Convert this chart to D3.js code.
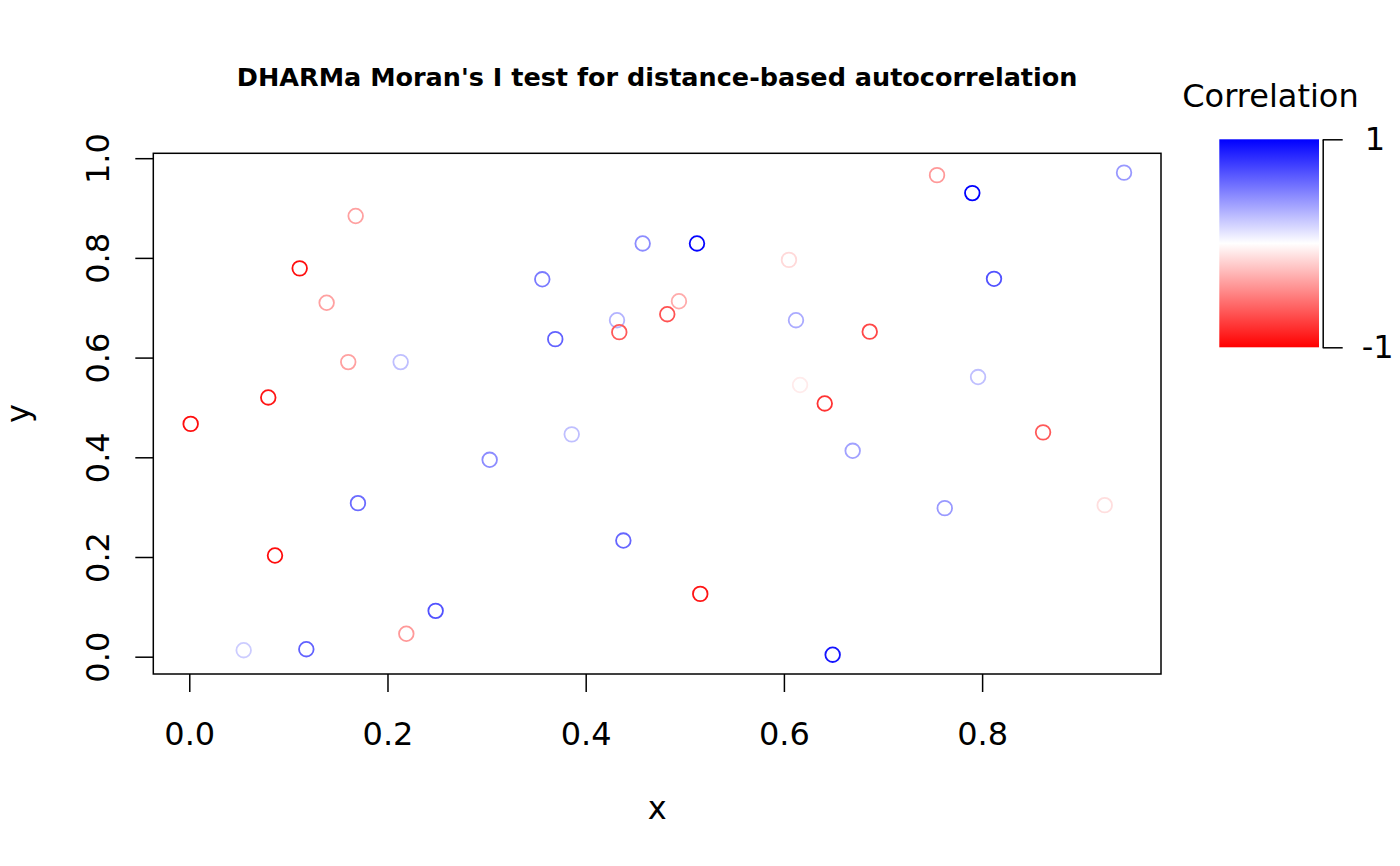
<!DOCTYPE html>
<html>
<head>
<meta charset="utf-8">
<script src="https://cdn.jsdelivr.net/npm/d3@7"></script>
<style>
    body { margin: 0; background: #fff; }
    text { font-family: "DejaVu Sans", sans-serif; }
</style>
</head>
<body>
<script>

// données (coordonnées et corrélation de chaque point)
const xs = [0.0014, 0.0797, 0.0865, 0.1114, 0.0549, 0.1181, 0.1386, 0.1679, 0.1604, 0.1702,
    0.2133, 0.2190, 0.2486, 0.3031, 0.3562, 0.3693, 0.3859, 0.4316, 0.4339, 0.4380,
    0.4575, 0.4823, 0.4941, 0.5123, 0.5156, 0.6051, 0.6122, 0.6163, 0.6412, 0.6492,
    0.6694, 0.6866, 0.7545, 0.7623, 0.7901, 0.7959, 0.8120, 0.8615, 0.9237, 0.9432]

const ys = [0.467, 0.520, 0.203, 0.779, 0.013, 0.015, 0.710, 0.884, 0.591, 0.308,
    0.591, 0.046, 0.092, 0.395, 0.757, 0.637, 0.446, 0.675, 0.651, 0.233,
    0.829, 0.687, 0.713, 0.829, 0.126, 0.796, 0.675, 0.545, 0.508, 0.004,
    0.413, 0.652, 0.966, 0.298, 0.930, 0.561, 0.758, 0.450, 0.304, 0.971]

const correlations = [-0.95, -0.92, -0.95, -0.95, 0.2, 0.62, -0.37, -0.37, -0.37, 0.58,
    0.25, -0.4, 0.68, 0.45, 0.52, 0.62, 0.25, 0.3, -0.65, 0.6,
    0.45, -0.68, -0.33, 0.98, -0.92, -0.15, 0.33, -0.08, -0.8, 0.92,
    0.37, -0.72, -0.4, 0.4, 1.0, 0.25, 0.68, -0.65, -0.13, 0.4]

const xTicks = [0, 0.2, 0.4, 0.6, 0.8]
const yTicks = [0, 0.2, 0.4, 0.6, 0.8, 1.0]
const legendTicks = [-1, 1]

const titre = "DHARMa Moran's I test for distance-based autocorrelation"


// zone du graphique
let margin = { top: 153.3, right: 239, bottom: 192, left: 153.3 };
let width = 1400 - margin.left - margin.right,
    height = 866 - margin.top - margin.bottom;

let svg = d3.select("body")
    .append("svg")
    .attr("width", 1400)
    .attr("height", 866)

let g = svg.append("g")
    .attr("transform", "translate(" + margin.left + "," + margin.top + ")");

// scales
let x = d3.scaleLinear()
    .domain([-0.0363, 0.9805])
    .range([0, width])

let y = d3.scaleLinear()
    .domain([-0.0347, 1.0098])
    .range([height, 0])

let color = d3.scaleLinear()
    .domain([-1, 0, 1])
    .range(["red", "white", "blue"])

// axes
let xAxis = g.append("g")
    .attr("transform", "translate(0," + height + ")")
    .call(d3.axisBottom(x).tickValues(xTicks).tickSize(18).tickFormat(d3.format(".1f")))

let yAxis = g.append("g")
    .call(d3.axisLeft(y).tickValues(yTicks).tickSize(18).tickFormat(d3.format(".1f")))

xAxis.select(".domain").remove()
yAxis.select(".domain").remove()

xAxis.selectAll(".tick line").attr("stroke", "black").attr("stroke-width", 1.5)
yAxis.selectAll(".tick line").attr("stroke", "black").attr("stroke-width", 1.5)

xAxis.selectAll(".tick text")
    .attr("y", 60)
    .attr("dy", "0.35em")
    .style("font-size", "32px")
    .attr("fill", "black")

yAxis.selectAll(".tick text")
    .attr("transform", "rotate(-90)")
    .attr("x", 0)
    .attr("y", -56)
    .attr("dy", "0.35em")
    .attr("text-anchor", "middle")
    .style("font-size", "32px")
    .attr("fill", "black")

// cadre
g.append("rect")
    .attr("width", width)
    .attr("height", height)
    .attr("fill", "none")
    .attr("stroke", "black")
    .attr("stroke-width", 1.5)

// points
g.selectAll(".point")
    .data(xs)
    .enter()
    .append("circle")
    .attr("class", "point")
    .attr("cx", (d, i) => x(xs[i]))
    .attr("cy", (d, i) => y(ys[i]))
    .attr("r", 7.3)
    .attr("fill", "none")
    .attr("stroke", (d, i) => color(correlations[i]))
    .attr("stroke-width", 1.8)

// titres
svg.append("text")
    .text(titre)
    .attr("x", margin.left + width / 2)
    .attr("y", 86)
    .attr("text-anchor", "middle")
    .style("font-size", "25.5px")
    .style("font-weight", "bold")

svg.append("text")
    .text("x")
    .attr("x", margin.left + width / 2)
    .attr("y", 819)
    .attr("text-anchor", "middle")
    .style("font-size", "32px")

svg.append("text")
    .text("y")
    .attr("transform", "translate(29," + (margin.top + height / 2) + ") rotate(-90)")
    .attr("text-anchor", "middle")
    .style("font-size", "32px")

// légende (barre de couleurs)
let legTop = 139.3, legBottom = 347.3, legLeft = 1219.3, legWidth = 99.7

let grad = svg.append("defs")
    .append("linearGradient")
    .attr("id", "degrade")
    .attr("x1", 0).attr("y1", 1)
    .attr("x2", 0).attr("y2", 0)

d3.range(0, 1.0001, 0.1).forEach(t => {
    grad.append("stop")
        .attr("offset", t)
        .attr("stop-color", color(-1 + 2 * t))
})

svg.append("rect")
    .attr("x", legLeft)
    .attr("y", legTop)
    .attr("width", legWidth)
    .attr("height", legBottom - legTop)
    .attr("fill", "url(#degrade)")

let legScale = d3.scaleLinear()
    .domain([-1, 1])
    .range([legBottom, legTop])

let legAxis = svg.append("g")
    .attr("transform", "translate(1322.7,0)")
    .call(d3.axisRight(legScale).tickValues(legendTicks).tickSize(20).tickSizeOuter(0)
        .tickFormat(d => String(d)))

legAxis.select(".domain").attr("stroke", "black").attr("stroke-width", 1.5)
legAxis.selectAll(".tick line").attr("stroke", "black").attr("stroke-width", 1.5)
legAxis.selectAll(".tick text")
    .style("font-size", "32px")
    .attr("fill", "black")
    .attr("x", (d) => d < 0 ? 39 : 42)

svg.append("text")
    .text("Correlation")
    .attr("x", 1270.5)
    .attr("y", 107)
    .attr("text-anchor", "middle")
    .style("font-size", "32px")

</script>
</body>
</html>
